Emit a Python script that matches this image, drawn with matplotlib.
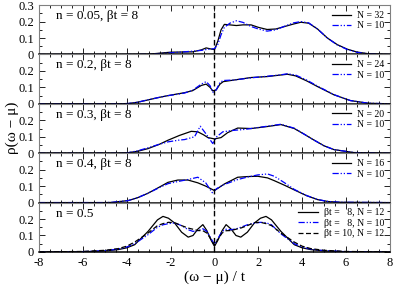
import matplotlib
matplotlib.use('Agg')
import matplotlib.pyplot as plt
from matplotlib.ticker import MultipleLocator

plt.rcParams['font.family'] = ['Liberation Serif', 'DejaVu Serif']
plt.rcParams['axes.unicode_minus'] = False

# panel labels and legends
panel_labels = ['n = 0.05, \u03b2t = 8', 'n = 0.2, \u03b2t = 8', 'n = 0.3, \u03b2t = 8',
                'n = 0.4, \u03b2t = 8', 'n = 0.5']

# n = 0.05
x1 = [-8, -4, -3, -2.5, -2, -1.5, -1, -0.6, -0.38, -0.15, 0, 0.15, 0.3, 0.45, 0.7, 1.0,
      1.3, 1.67, 2.0, 2.4, 2.8, 3.2, 3.6, 3.94, 4.3, 4.7, 5.15, 5.6, 6.06, 6.5, 7.0, 8]
n1_N32 = [0, 0, 0.002, 0.008, 0.014, 0.015, 0.016, 0.028, 0.04, 0.033, 0.03, 0.08, 0.15,
          0.183, 0.18, 0.176, 0.18, 0.18, 0.165, 0.152, 0.155, 0.17, 0.185, 0.196, 0.19,
          0.155, 0.1, 0.06, 0.032, 0.015, 0.005, 0]
n1_N10 = [0, 0, 0.002, 0.006, 0.01, 0.015, 0.02, 0.025, 0.03, 0.034, 0.035, 0.06, 0.12,
          0.165, 0.19, 0.205, 0.195, 0.17, 0.155, 0.142, 0.15, 0.172, 0.192, 0.2, 0.192,
          0.155, 0.1, 0.058, 0.03, 0.013, 0.004, 0]

# n = 0.2
x2 = [-8, -4.5, -3.94, -3.5, -3.03, -2.5, -2.12, -1.7, -1.36, -1.0, -0.6, -0.38, -0.2,
      -0.08, 0.08, 0.25, 0.4, 0.9, 1.67, 2.42, 3.0, 3.33, 3.7, 4.2, 4.7, 5.45, 6.2, 7.0, 8]
n2_N24 = [0, 0, 0.002, 0.01, 0.024, 0.04, 0.05, 0.06, 0.068, 0.08, 0.112, 0.12, 0.1, 0.079,
          0.085, 0.12, 0.135, 0.145, 0.16, 0.166, 0.175, 0.18, 0.17, 0.14, 0.105, 0.055,
          0.02, 0.004, 0]
n2_N10 = [0, 0, 0.002, 0.01, 0.025, 0.04, 0.05, 0.058, 0.066, 0.082, 0.12, 0.135, 0.11,
          0.07, 0.085, 0.13, 0.142, 0.145, 0.158, 0.168, 0.176, 0.183, 0.175, 0.145, 0.108,
          0.056, 0.02, 0.004, 0]

# n = 0.3
x3 = [-8, -4.5, -3.94, -3.5, -3.03, -2.5, -2.12, -1.6, -1.06, -0.76, -0.5, -0.3, 0, 0.3,
      0.6, 1.06, 1.67, 2.4, 3.03, 3.64, 4.1, 4.55, 5.0, 5.45, 6.36, 8]
n3_N20 = [0, 0, 0.003, 0.012, 0.028, 0.055, 0.079, 0.108, 0.133, 0.13, 0.112, 0.095, 0.087,
          0.095, 0.125, 0.153, 0.15, 0.162, 0.174, 0.15, 0.115, 0.079, 0.045, 0.022, 0.004, 0]
x3b = [-8, -4.5, -3.94, -3.5, -3.03, -2.5, -2.12, -1.6, -1.36, -0.91, -0.65, -0.4, -0.08,
       0.1, 0.38, 0.8, 1.4, 2.4, 3.03, 3.64, 4.1, 4.55, 5.0, 5.45, 6.36, 8]
n3_N10 = [0, 0, 0.003, 0.015, 0.033, 0.055, 0.069, 0.08, 0.083, 0.1, 0.164, 0.12, 0.059,
          0.1, 0.13, 0.138, 0.145, 0.164, 0.176, 0.152, 0.115, 0.079, 0.045, 0.022, 0.004, 0]

# n = 0.4
x4 = [-8, -5, -4.7, -3.94, -3.5, -3.03, -2.5, -2.12, -1.67, -1.21, -0.76, -0.4, 0, 0.45,
      1.06, 1.5, 1.97, 2.42, 2.73, 3.2, 3.64, 4.2, 4.7, 5.2, 5.76, 8]
n4_N16 = [0, 0, 0.001, 0.012, 0.03, 0.057, 0.095, 0.123, 0.137, 0.137, 0.12, 0.1, 0.073,
          0.113, 0.154, 0.158, 0.16, 0.15, 0.133, 0.105, 0.077, 0.042, 0.018, 0.006, 0.002, 0]
x4b = [-8, -5, -4.7, -3.94, -3.5, -3.03, -2.5, -2.12, -1.67, -1.21, -0.76, -0.4, -0.1, 0.1,
       0.45, 1.06, 1.5, 1.97, 2.42, 2.73, 3.2, 3.64, 4.2, 4.7, 5.2, 5.76, 8]
n4_N10 = [0, 0, 0.001, 0.012, 0.03, 0.057, 0.092, 0.115, 0.128, 0.14, 0.154, 0.12, 0.06,
          0.085, 0.11, 0.14, 0.155, 0.168, 0.174, 0.16, 0.12, 0.08, 0.043, 0.019, 0.006,
          0.002, 0]

# n = 0.5
x5 = [-8, -6, -5, -4.4, -4, -3.64, -3.03, -2.6, -2.35, -2.1, -1.82, -1.5, -1.2, -0.98,
      -0.75, -0.53, -0.35, -0.15, 0, 0.15, 0.35, 0.53, 0.75, 0.98, 1.2, 1.5, 1.82, 2.1,
      2.35, 2.6, 3.03, 3.64, 4, 4.4, 5, 6, 8]
n5_b8_N12 = [0, 0.001, 0.006, 0.014, 0.025, 0.044, 0.125, 0.195, 0.216, 0.205, 0.176, 0.12,
             0.09, 0.1, 0.14, 0.166, 0.13, 0.07, 0.034, 0.07, 0.13, 0.166, 0.14, 0.1, 0.09,
             0.12, 0.176, 0.205, 0.216, 0.195, 0.125, 0.044, 0.025, 0.014, 0.006, 0.001, 0]
n5_b8_N10 = [0, 0.002, 0.008, 0.017, 0.03, 0.05, 0.105, 0.15, 0.165, 0.172, 0.176, 0.16,
             0.135, 0.125, 0.13, 0.141, 0.125, 0.08, 0.044, 0.08, 0.125, 0.138, 0.135, 0.14,
             0.15, 0.165, 0.175, 0.18, 0.178, 0.165, 0.11, 0.05, 0.03, 0.017, 0.008, 0.002, 0]
n5_b10_N12 = [0, 0.003, 0.01, 0.02, 0.035, 0.06, 0.115, 0.16, 0.172, 0.18, 0.178, 0.16,
              0.145, 0.138, 0.13, 0.129, 0.115, 0.075, 0.04, 0.075, 0.115, 0.129, 0.13,
              0.138, 0.145, 0.16, 0.178, 0.18, 0.172, 0.16, 0.115, 0.06, 0.035, 0.02, 0.01,
              0.003, 0]

x_ticks = [-8, -6, -4, -2, 0, 2, 4, 6, 8]

blue_ls = (0, (5, 1.5, 1, 1.5, 1, 1.5))

panels = [
    [(x1, n1_N32, 'N = 32', 'k', '-'), (x1, n1_N10, 'N = 10', 'b', blue_ls)],
    [(x2, n2_N24, 'N = 24', 'k', '-'), (x2, n2_N10, 'N = 10', 'b', blue_ls)],
    [(x3, n3_N20, 'N = 20', 'k', '-'), (x3b, n3_N10, 'N = 10', 'b', blue_ls)],
    [(x4, n4_N16, 'N = 16', 'k', '-'), (x4b, n4_N10, 'N = 10', 'b', blue_ls)],
    [(x5, n5_b8_N12, '\u03b2t =   8, N = 12', 'k', '-'),
     (x5, n5_b8_N10, '\u03b2t =   8, N = 10', 'b', blue_ls),
     (x5, n5_b10_N12, '\u03b2t = 10, N = 12', 'k', (0, (4, 2)))],
]

fig, axes = plt.subplots(5, 1, figsize=(3.95, 2.85), dpi=100, sharex=True)
fig.subplots_adjust(left=0.099, right=0.987, top=0.982, bottom=0.116, hspace=0)

for i, ax in enumerate(axes):
    for xs, ys, lab, col, ls in panels[i]:
        ax.plot(xs, ys, color=col, linestyle=ls, lw=0.9, label=lab)
    ax.axvline(0, color='k', ls=(0, (4, 2.5)), lw=1.0)
    ax.set_xticks(x_ticks)
    ax.xaxis.set_minor_locator(MultipleLocator(0.5))
    ax.set_xlim(-8, 8)
    ax.yaxis.set_minor_locator(MultipleLocator(0.05))
    ax.tick_params(which='both', direction='in', top=True, right=True, labelsize=9)
    ax.tick_params(which='major', length=4, width=0.6)
    ax.tick_params(which='minor', length=2, width=0.6)
    for s in ['top', 'left', 'right']:
        ax.spines[s].set_color('#808080')
    ax.spines['bottom'].set_linewidth(1.1)
    if i == 0:
        ax.set_yticks([0, 0.1, 0.2, 0.3])
        ax.set_yticklabels(['0', '0.1', '0.2', '0.3'])
    else:
        ax.set_yticks([0, 0.1, 0.2])
        ax.set_yticklabels(['0', '0.1', '0.2'])
    ax.set_ylim(0, 0.3)
    ax.text(-7.25, 0.27, panel_labels[i], fontsize=9.5, va='top', ha='left')
    ax.legend(loc='upper right', frameon=False, fontsize=7, handlelength=2.0,
              handletextpad=0.6, labelspacing=0.15, borderaxespad=0.2)

axes[-1].set_xlabel('(\u03c9 \u2212 \u03bc) / t', fontsize=11, labelpad=1)
fig.text(0.015, 0.55, '\u03c1(\u03c9 \u2212 \u03bc)', rotation=90, fontsize=11,
         va='center', ha='left')

plt.savefig('out.png', dpi=100)
